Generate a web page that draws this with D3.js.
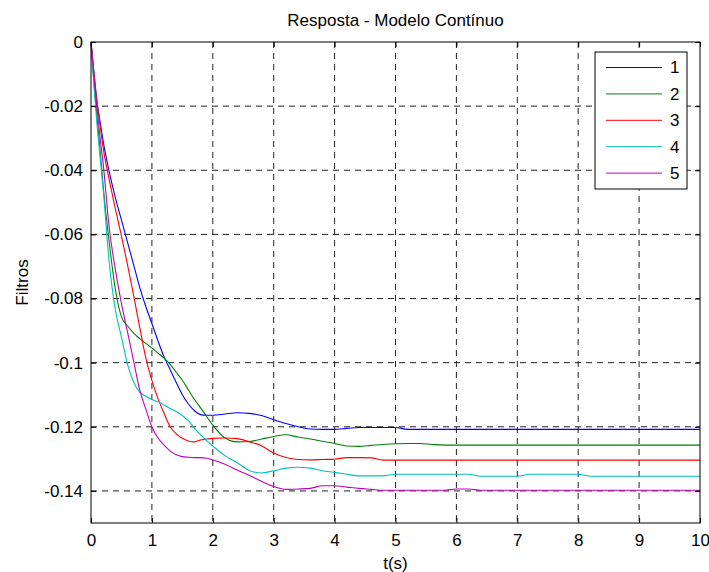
<!DOCTYPE html>
<html>
<head>
<meta charset="utf-8">
<script src="https://cdn.jsdelivr.net/npm/d3@7"></script>
<style>
  body { margin: 0; background: #fff; }
  svg { display: block; font-family: "Liberation Sans", Arial, sans-serif; }
</style>
</head>
<body>
<svg id="chart"></svg>
<script>
// time samples (s)
const times = [0, 0.05, 0.1, 0.15, 0.2, 0.3, 0.4, 0.5, 0.6, 0.7, 0.8, 0.9, 1.0, 1.1, 1.2, 1.3, 1.4, 1.5, 1.6, 1.7, 1.8, 1.9, 2.0,
  2.2, 2.4, 2.6, 2.8, 3.0, 3.2, 3.4, 3.6, 3.8, 4.0, 4.2, 4.4, 4.6, 4.8, 5.0, 5.2, 5.4, 5.6, 5.8, 6.0, 6.2, 6.4, 6.6,
  7.0, 7.2, 7.4, 7.8, 8.0, 8.2, 9.0, 10.0];

// filter responses
const filtro1 = [0, -0.010, -0.019, -0.025, -0.031, -0.0405, -0.0485, -0.0555, -0.0625, -0.0695, -0.0765, -0.0825, -0.0878, -0.0932, -0.0982, -0.1022, -0.1062, -0.1100, -0.1129, -0.1150, -0.1162, -0.1164, -0.1164,
  -0.1160, -0.1156, -0.1158, -0.1165, -0.1178, -0.1190, -0.1200, -0.1207, -0.1208, -0.1208, -0.1205, -0.1202, -0.1202, -0.1202, -0.1202, -0.1208, -0.1208, -0.1208, -0.1208, -0.1208, -0.1208, -0.1208, -0.1208,
  -0.1208, -0.1208, -0.1208, -0.1208, -0.1208, -0.1208, -0.1208, -0.1208];
const filtro2 = [0, -0.013, -0.024, -0.034, -0.045, -0.0626, -0.0771, -0.0857, -0.0885, -0.0908, -0.0925, -0.0940, -0.0954, -0.0970, -0.0986, -0.1005, -0.1030, -0.1055, -0.1085, -0.1115, -0.1141, -0.1168, -0.1195,
  -0.1235, -0.1247, -0.1246, -0.1238, -0.1230, -0.1225, -0.1232, -0.1238, -0.1245, -0.1252, -0.1260, -0.1261, -0.1258, -0.1255, -0.1253, -0.1252, -0.1252, -0.1255, -0.1257, -0.1257, -0.1257, -0.1257, -0.1257,
  -0.1257, -0.1257, -0.1257, -0.1257, -0.1257, -0.1257, -0.1257, -0.1257];
const filtro3 = [0, -0.010, -0.019, -0.026, -0.033, -0.0430, -0.0520, -0.0605, -0.0695, -0.0790, -0.0890, -0.0985, -0.1055, -0.1112, -0.1158, -0.1200, -0.1222, -0.1236, -0.1244, -0.1247, -0.1241, -0.1238, -0.1236,
  -0.1235, -0.1237, -0.1247, -0.1259, -0.1282, -0.1296, -0.1302, -0.1303, -0.1302, -0.1301, -0.1296, -0.1296, -0.1297, -0.1304, -0.1304, -0.1304, -0.1304, -0.1304, -0.1304, -0.1304, -0.1304, -0.1304, -0.1304,
  -0.1304, -0.1304, -0.1304, -0.1304, -0.1304, -0.1304, -0.1304, -0.1304];
const filtro4 = [0, -0.014, -0.026, -0.036, -0.046, -0.069, -0.0835, -0.0920, -0.1005, -0.1060, -0.1092, -0.1105, -0.1115, -0.1122, -0.1132, -0.1143, -0.1152, -0.1165, -0.1181, -0.1205, -0.1225, -0.1243, -0.1260,
  -0.1290, -0.1312, -0.1336, -0.1344, -0.1337, -0.1329, -0.1326, -0.1329, -0.1337, -0.1342, -0.1348, -0.1353, -0.1353, -0.1353, -0.1348, -0.1348, -0.1348, -0.1348, -0.1348, -0.1348, -0.1348, -0.1354, -0.1354,
  -0.1354, -0.1348, -0.1348, -0.1348, -0.1348, -0.1354, -0.1354, -0.1354];
const filtro5 = [0, -0.011, -0.021, -0.030, -0.038, -0.058, -0.071, -0.0815, -0.0905, -0.0995, -0.1085, -0.1145, -0.1200, -0.1235, -0.1257, -0.1275, -0.1287, -0.1293, -0.1295, -0.1296, -0.1296, -0.1298, -0.1303,
  -0.1317, -0.1335, -0.1352, -0.1370, -0.1386, -0.1395, -0.1394, -0.1392, -0.1384, -0.1384, -0.1388, -0.1392, -0.1395, -0.1398, -0.1398, -0.1398, -0.1398, -0.1398, -0.1398, -0.1394, -0.1394, -0.1398, -0.1398,
  -0.1398, -0.1398, -0.1398, -0.1398, -0.1398, -0.1398, -0.1398, -0.1398];

const seriesNames = ["1", "2", "3", "4", "5"];
const seriesColors = ["#0000ff", "#008000", "#ff0000", "#00bfbf", "#bf00bf"];
const xTicks = [0, 1, 2, 3, 4, 5, 6, 7, 8, 9, 10];
const yTicks = [0, -0.02, -0.04, -0.06, -0.08, -0.1, -0.12, -0.14];

const width = 709, height = 572;
const margin = {top: 42, right: 9, bottom: 49, left: 91};
const innerW = width - margin.left - margin.right;
const innerH = height - margin.top - margin.bottom;

const svg = d3.select("#chart")
    .attr("width", width)
    .attr("height", height)
    .attr("viewBox", [0, 0, width, height]);

const x = d3.scaleLinear().domain([0, 10]).range([0, innerW]);
const y = d3.scaleLinear().domain([-0.15, 0]).range([innerH, 0]);

const g = svg.append("g")
    .attr("transform", `translate(${margin.left},${margin.top})`);

// dashed grid
g.append("g").selectAll("line").data(xTicks.slice(1, -1)).join("line")
    .attr("x1", d => x(d)).attr("x2", d => x(d))
    .attr("y1", 0).attr("y2", innerH)
    .attr("stroke", "#222").attr("stroke-dasharray", "6,5");
g.append("g").selectAll("line").data(yTicks.slice(1)).join("line")
    .attr("x1", 0).attr("x2", innerW)
    .attr("y1", d => y(d)).attr("y2", d => y(d))
    .attr("stroke", "#222").attr("stroke-dasharray", "6,5");

// curves
const series = [filtro1, filtro2, filtro3, filtro4, filtro5];
const line = d3.line()
    .x((d, i) => x(times[i]))
    .y(d => y(d))
    .curve(d3.curveMonotoneX);

g.append("g").selectAll("path").data(series).join("path")
    .attr("fill", "none")
    .attr("stroke", (d, i) => seriesColors[i])
    .attr("stroke-width", 1.1)
    .attr("d", line);

// axes, ticks pointing inward
const fmtY = d => d === 0 ? "0" : d3.format(".2~f")(d).replace("−", "-");

g.append("g")
    .attr("transform", `translate(0,${innerH})`)
    .call(d3.axisBottom(x).tickValues(xTicks).tickSize(-5).tickPadding(11).tickFormat(d3.format("d")));
g.append("g")
    .call(d3.axisLeft(y).tickValues(yTicks).tickSize(-5).tickPadding(8).tickFormat(fmtY));
g.append("g")
    .call(d3.axisTop(x).tickValues(xTicks).tickSize(-5).tickFormat(""));
g.append("g")
    .attr("transform", `translate(${innerW},0)`)
    .call(d3.axisRight(y).tickValues(yTicks).tickSize(-5).tickFormat(""));

g.selectAll(".domain").remove();
g.selectAll(".tick line").attr("stroke", "#000");
g.selectAll(".tick text")
    .attr("fill", "#000")
    .attr("font-size", 17)
    .attr("font-family", "Liberation Sans, Arial, sans-serif");

// box
g.append("rect")
    .attr("width", innerW).attr("height", innerH)
    .attr("fill", "none").attr("stroke", "#000");

// title and labels
svg.append("text")
    .attr("x", margin.left + innerW / 2).attr("y", 26)
    .attr("text-anchor", "middle").attr("font-size", 17)
    .text("Resposta - Modelo Contínuo");
svg.append("text")
    .attr("x", margin.left + innerW / 2).attr("y", 569)
    .attr("text-anchor", "middle").attr("font-size", 17)
    .text("t(s)");
svg.append("text")
    .attr("transform", `translate(28,${margin.top + innerH / 2}) rotate(-90)`)
    .attr("text-anchor", "middle").attr("font-size", 17)
    .text("Filtros");

// legend
const legend = g.append("g").attr("transform", `translate(${595 - margin.left},${52 - margin.top})`);
legend.append("rect")
    .attr("width", 92).attr("height", 137)
    .attr("fill", "#fff").attr("stroke", "#000");
const item = legend.selectAll("g.item").data(seriesNames).join("g")
    .attr("class", "item")
    .attr("transform", (d, i) => `translate(0,${15.5 + i * 26.4})`);
item.append("line")
    .attr("x1", 11).attr("x2", 67)
    .attr("stroke", (d, i) => seriesColors[i]);
item.append("text")
    .attr("x", 75).attr("dy", "0.35em")
    .attr("font-size", 17)
    .text(d => d);
</script>
</body>
</html>
